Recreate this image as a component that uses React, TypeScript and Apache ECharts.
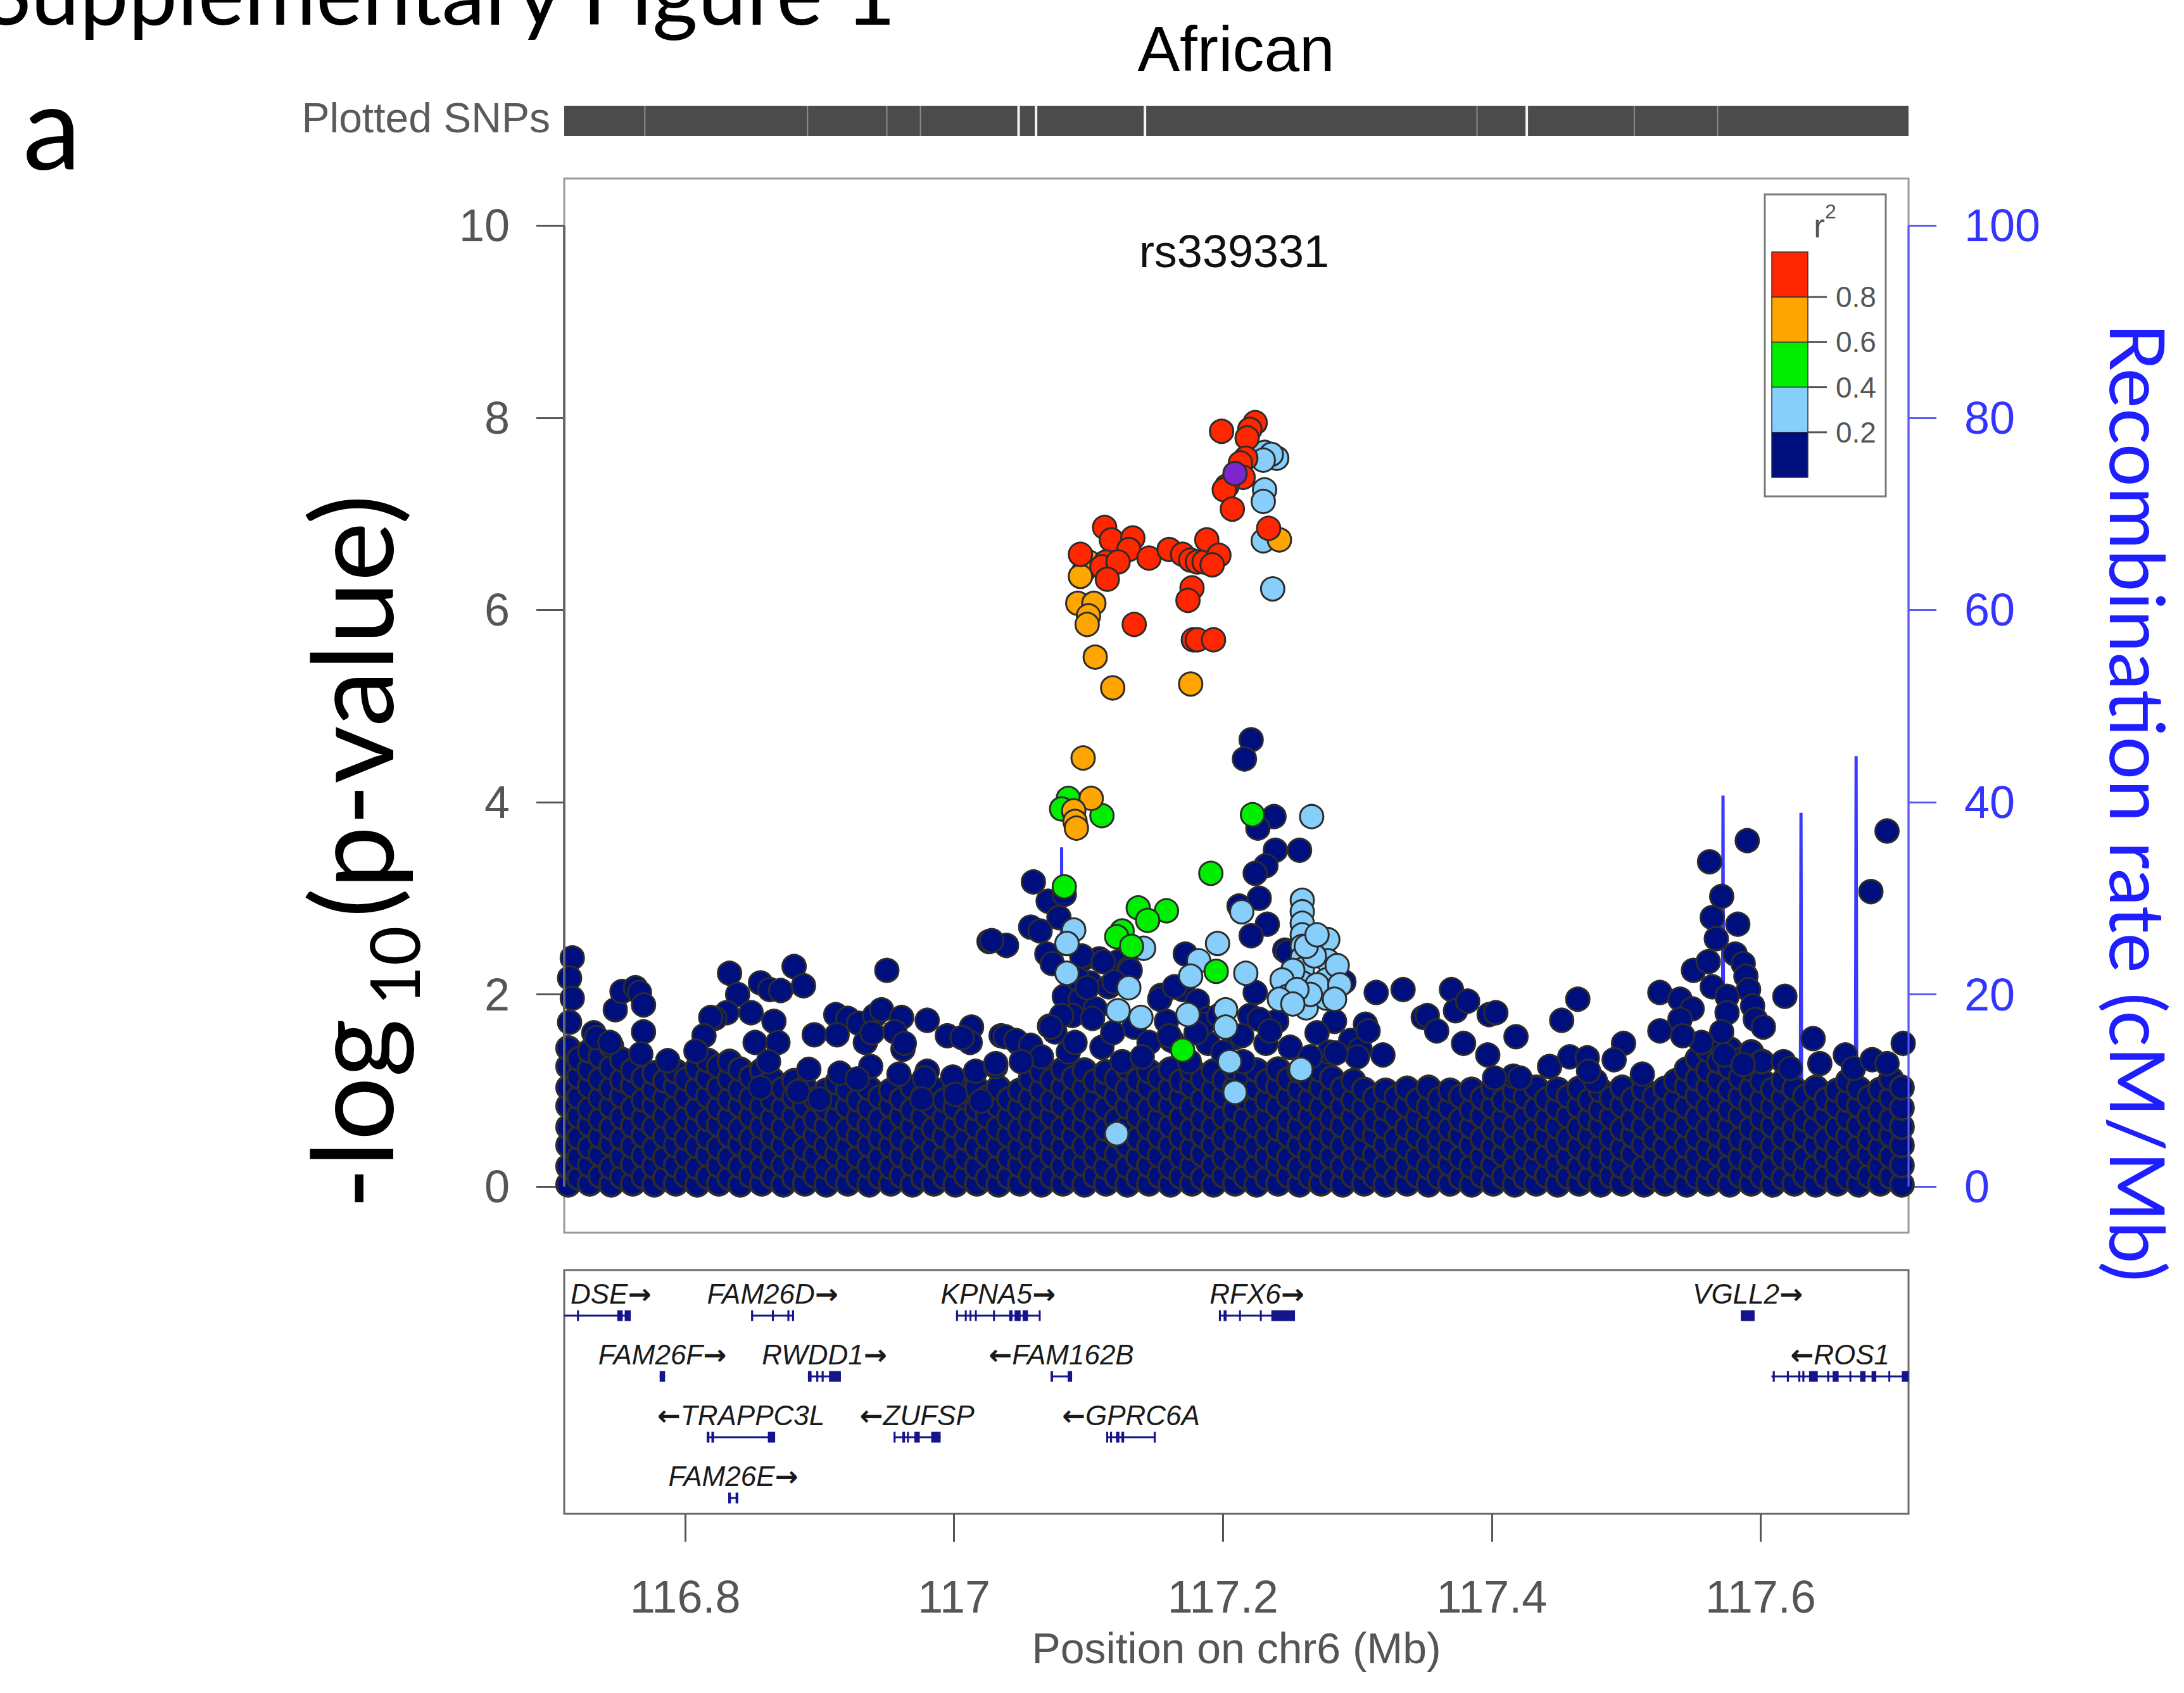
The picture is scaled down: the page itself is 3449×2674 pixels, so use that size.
import React, { useEffect, useRef } from 'react';
import * as echarts from 'echarts';

// ---------- axis ranges / ticks ----------
const X_MIN = 116.71;
const X_MAX = 117.71;
const Y_MIN = -0.48;
const Y_MAX = 10.49;
const xTicks = [116.8, 117, 117.2, 117.4, 117.6];
const yTicks = [0, 2, 4, 6, 8, 10];
const recTicks = [0, 20, 40, 60, 80, 100];
const r2Breaks = ['0.8', '0.6', '0.4', '0.2'];

// ---------- SNPs coloured by r2 ----------
const leadSnp: [number, number][] = [[117.209, 7.42]];

const redSnps: [number, number][] = [
  [117.199, 7.86], [117.224, 7.95], [117.22, 7.88], [117.218, 7.79], [117.217, 7.58], [117.213, 7.53],
  [117.215, 7.38], [117.203, 7.29], [117.201, 7.25], [117.207, 7.05], [117.234, 6.85],
  [117.112, 6.86], [117.094, 6.58], [117.117, 6.73], [117.133, 6.75], [117.13, 6.63], [117.113, 6.5],
  [117.11, 6.45], [117.122, 6.5], [117.114, 6.32], [117.145, 6.54], [117.16, 6.63], [117.17, 6.58],
  [117.176, 6.52], [117.181, 6.5], [117.186, 6.5], [117.188, 6.73], [117.197, 6.57], [117.192, 6.47],
  [117.177, 6.23], [117.174, 6.1], [117.134, 5.85], [117.178, 5.69], [117.181, 5.69], [117.193, 5.69],
];

const orangeSnps: [number, number][] = [
  [117.1, 6.5], [117.097, 6.42], [117.094, 6.35], [117.092, 6.07], [117.104, 6.07], [117.1, 5.94],
  [117.099, 5.85], [117.105, 5.51], [117.118, 5.19], [117.176, 5.23], [117.096, 4.46], [117.102, 4.04],
  [117.089, 3.91], [117.09, 3.8], [117.091, 3.73], [117.242, 6.73],
];

const greenSnps: [number, number][] = [
  [117.085, 4.04], [117.08, 3.93], [117.11, 3.86], [117.082, 3.12], [117.222, 3.87], [117.191, 3.26],
  [117.137, 2.9], [117.158, 2.87], [117.144, 2.77], [117.125, 2.66], [117.121, 2.6], [117.132, 2.5],
  [117.195, 2.24], [117.17, 1.42],
];

const lightBlueSnps: [number, number][] = [
  [117.24, 7.58], [117.231, 7.64], [117.236, 7.62], [117.23, 7.56], [117.231, 7.25], [117.23, 7.13],
  [117.23, 6.72], [117.237, 6.22], [117.266, 3.85], [117.089, 2.67], [117.084, 2.53], [117.214, 2.86],
  [117.196, 2.53], [117.141, 2.48], [117.182, 2.35], [117.084, 2.22], [117.217, 2.22],
  [117.259, 2.98], [117.259, 2.86], [117.259, 2.74], [117.259, 2.62], [117.259, 2.5], [117.259, 2.38],
  [117.259, 2.26], [117.259, 2.12], [117.259, 1.98], [117.262, 1.86],
  [117.278, 2.57], [117.278, 2.35], [117.277, 2.15], [117.277, 1.96], [117.252, 2.25], [117.244, 2.15],
  [117.248, 1.98], [117.176, 2.19], [117.13, 2.07], [117.122, 1.83], [117.139, 1.76], [117.121, 0.55],
  [117.174, 1.79], [117.202, 1.84], [117.202, 1.66], [117.205, 1.3], [117.209, 0.98], [117.258, 1.22],
  [117.268, 2.4], [117.27, 2.1], [117.265, 2.0], [117.285, 2.3], [117.287, 2.1], [117.283, 1.95],
  [117.255, 2.05], [117.262, 2.5], [117.27, 2.62], [117.242, 1.95], [117.252, 1.9],
];

// navy (r2 < 0.2): scattered upper points
const navyUpper: [number, number][] = [
  [116.716, 2.38], [116.714, 2.17], [116.716, 1.96], [116.714, 1.71], [116.732, 1.6], [116.748, 1.84],
  [116.753, 2.03], [116.763, 2.07], [116.766, 2.02], [116.769, 1.89], [116.769, 1.61], [116.734, 1.55],
  [116.787, 1.31], [116.767, 1.38], [116.744, 1.5],
  [116.833, 2.22], [116.839, 2.0], [116.831, 1.81], [116.849, 1.81], [116.822, 1.75], [116.856, 2.12],
  [116.863, 2.05], [116.871, 2.04], [116.881, 2.29], [116.888, 2.09], [116.866, 1.72], [116.819, 1.76],
  [116.814, 1.57], [116.808, 1.41], [116.852, 1.5], [116.869, 1.5], [116.862, 1.3],
  [116.95, 2.25], [117.026, 2.55], [117.039, 2.51],
  [116.912, 1.79], [116.921, 1.75], [116.929, 1.7], [116.941, 1.78], [116.946, 1.84], [116.961, 1.76],
  [116.98, 1.73], [116.995, 1.57], [117.013, 1.66], [117.012, 1.5],
  [116.896, 1.58], [116.913, 1.58], [116.934, 1.5], [116.956, 1.61], [116.962, 1.43], [116.939, 1.6],
  [116.963, 1.49], [117.006, 1.55], [117.035, 1.57], [117.048, 1.49],
  [116.915, 1.18], [116.938, 1.25], [116.928, 1.12], [116.959, 1.17], [116.98, 1.2], [116.999, 1.14],
  [117.016, 1.2], [117.031, 1.25], [116.892, 1.22], [116.978, 1.13],
  [116.856, 1.03], [116.884, 0.99], [116.9, 0.91], [117.001, 0.96], [116.976, 0.91], [117.02, 0.89],
  [117.059, 3.17], [117.07, 2.97], [117.082, 3.04], [117.078, 2.8], [117.057, 2.7], [117.064, 2.66],
  [117.028, 2.56], [117.069, 2.42], [117.073, 2.32], [117.096, 2.37], [117.108, 2.37], [117.122, 2.34],
  [117.13, 2.27], [117.101, 2.12], [117.082, 1.98], [117.094, 1.95], [117.115, 2.08], [117.105, 1.85],
  [117.088, 1.78], [117.071, 1.67], [117.075, 1.61], [117.038, 1.56], [117.046, 1.52], [117.057, 1.47],
  [117.031, 1.28],
  [117.095, 2.4], [117.111, 2.34], [117.131, 2.25], [117.092, 2.16], [117.099, 2.07], [117.119, 2.13],
  [117.154, 1.99], [117.17, 2.05], [117.181, 1.93], [117.189, 1.75], [117.158, 1.72], [117.134, 1.66],
  [117.103, 1.75], [117.08, 1.78], [117.072, 1.66],
  [117.172, 2.42], [117.212, 2.92], [117.227, 3.0], [117.233, 2.73], [117.221, 2.61], [117.238, 3.85],
  [117.226, 3.73], [117.239, 3.5], [117.257, 3.5], [117.232, 3.34], [117.224, 3.26], [117.221, 4.65],
  [117.216, 4.45], [117.246, 2.46], [117.29, 2.13], [117.248, 2.44],
  [117.224, 2.02], [117.22, 1.78], [117.24, 1.72], [117.232, 1.49], [117.209, 1.55], [117.189, 1.49],
  [117.162, 1.52], [117.283, 1.72], [117.295, 1.52], [117.279, 1.4], [117.302, 1.43],
  [117.227, 1.74], [117.214, 1.57], [117.153, 1.95], [117.164, 2.08], [117.145, 1.5], [117.16, 1.57],
  [117.185, 1.69], [117.197, 1.78],
  [117.306, 1.69], [117.314, 2.02], [117.334, 2.05], [117.308, 1.62], [117.349, 1.76], [117.3, 1.35],
  [117.319, 1.37], [117.284, 1.39],
  [117.065, 1.35], [117.085, 1.4], [117.11, 1.45], [117.125, 1.3], [117.14, 1.35], [117.175, 1.3],
  [117.2, 1.4], [117.215, 1.3], [117.25, 1.45], [117.265, 1.35], [117.27, 1.6], [117.05, 1.3],
  [117.09, 1.5], [117.118, 1.6], [117.18, 1.6], [117.235, 1.62],
  [117.37, 2.05], [117.373, 1.83], [117.382, 1.93], [117.352, 1.78], [117.359, 1.62], [117.398, 1.79],
  [117.403, 1.81], [117.418, 1.56], [117.379, 1.49], [117.397, 1.37], [117.452, 1.73], [117.464, 1.95],
  [117.443, 1.25], [117.458, 1.35], [117.471, 1.34], [117.416, 1.15], [117.421, 1.13], [117.402, 1.13],
  [117.498, 1.49], [117.491, 1.32], [117.512, 1.17], [117.477, 1.1], [117.472, 1.2],
  [117.525, 2.02], [117.525, 1.62], [117.54, 1.95], [117.549, 1.85], [117.54, 1.74], [117.55, 2.25],
  [117.561, 2.34], [117.562, 3.38], [117.571, 3.02], [117.564, 2.8], [117.567, 2.58], [117.564, 2.08],
  [117.583, 2.73], [117.59, 3.6], [117.581, 2.42], [117.587, 2.32], [117.589, 2.19], [117.591, 2.05],
  [117.594, 1.88], [117.596, 1.74], [117.602, 1.66], [117.575, 1.98], [117.575, 1.81], [117.571, 1.61],
  [117.618, 1.98], [117.639, 1.54], [117.644, 1.28], [117.617, 1.3], [117.622, 1.23], [117.663, 1.37],
  [117.669, 1.23], [117.682, 3.07], [117.694, 3.7], [117.683, 1.32], [117.694, 1.28], [117.706, 1.49],
  [117.573, 1.37], [117.587, 1.27], [117.556, 1.5], [117.542, 1.57],
];

// navy (r2 < 0.2): dense low band, one entry per position with its -log10 p values
const navyBand: [number, number[]][] = [
  [116.713, [0.02, 0.21, 0.43, 0.62, 0.84, 1.03, 1.25, 1.44]],
  [116.721, [0.09, 0.3, 0.51, 0.73, 0.93, 1.14, 1.33]],
  [116.729, [0.03, 0.22, 0.41, 0.64, 0.81, 1.04, 1.22, 1.41]],
  [116.737, [0.11, 0.33, 0.52, 0.7, 0.92, 1.12, 1.35]],
  [116.745, [0.02, 0.2, 0.44, 0.61, 0.83, 1.02, 1.24, 1.46]],
  [116.753, [0.1, 0.31, 0.5, 0.72, 0.94, 1.11, 1.32]],
  [116.761, [0.03, 0.23, 0.42, 0.63, 0.82, 1.05, 1.21]],
  [116.769, [0.1, 0.32, 0.53, 0.71, 0.9, 1.13]],
  [116.777, [0.02, 0.21, 0.4, 0.62, 0.84, 1.01, 1.18]],
  [116.785, [0.09, 0.3, 0.52, 0.73, 0.92, 1.1]],
  [116.793, [0.03, 0.22, 0.43, 0.61, 0.83, 1.04, 1.2]],
  [116.801, [0.11, 0.31, 0.5, 0.72, 0.93, 1.12]],
  [116.809, [0.02, 0.2, 0.42, 0.63, 0.81, 1.02, 1.23]],
  [116.817, [0.1, 0.33, 0.51, 0.7, 0.94, 1.13, 1.31]],
  [116.825, [0.03, 0.22, 0.41, 0.64, 0.82, 1.03, 1.25]],
  [116.833, [0.09, 0.3, 0.53, 0.72, 0.91, 1.12, 1.3]],
  [116.841, [0.02, 0.21, 0.44, 0.6, 0.84, 1.01, 1.22]],
  [116.849, [0.11, 0.32, 0.5, 0.73, 0.92, 1.14]],
  [116.857, [0.03, 0.2, 0.42, 0.62, 0.83, 1.04, 1.21]],
  [116.865, [0.1, 0.31, 0.52, 0.71, 0.9, 1.11]],
  [116.873, [0.02, 0.22, 0.43, 0.61, 0.82, 1.02]],
  [116.881, [0.09, 0.3, 0.51, 0.73, 0.93, 1.1]],
  [116.889, [0.03, 0.21, 0.4, 0.63, 0.84, 1.03]],
  [116.897, [0.11, 0.32, 0.53, 0.7, 0.91]],
  [116.905, [0.02, 0.2, 0.42, 0.62, 0.81, 1.0]],
  [116.913, [0.1, 0.33, 0.5, 0.72, 0.92, 1.08]],
  [116.921, [0.03, 0.22, 0.41, 0.6, 0.83, 1.01]],
  [116.929, [0.09, 0.31, 0.52, 0.71, 0.9]],
  [116.937, [0.02, 0.21, 0.43, 0.63, 0.82, 1.02]],
  [116.945, [0.1, 0.3, 0.51, 0.7, 0.93]],
  [116.953, [0.03, 0.2, 0.42, 0.61, 0.84, 1.0]],
  [116.961, [0.11, 0.32, 0.5, 0.73, 0.91]],
  [116.969, [0.02, 0.23, 0.41, 0.62, 0.8, 1.03]],
  [116.977, [0.09, 0.3, 0.53, 0.72, 0.94]],
  [116.985, [0.03, 0.21, 0.4, 0.6, 0.83, 1.01]],
  [116.993, [0.1, 0.31, 0.52, 0.71, 0.9]],
  [117.001, [0.02, 0.22, 0.43, 0.63, 0.82, 1.04]],
  [117.009, [0.11, 0.3, 0.5, 0.7, 0.92]],
  [117.017, [0.03, 0.2, 0.41, 0.62, 0.81, 1.02]],
  [117.025, [0.09, 0.33, 0.51, 0.73, 0.93]],
  [117.033, [0.02, 0.21, 0.42, 0.61, 0.84, 1.03]],
  [117.041, [0.1, 0.3, 0.53, 0.72, 0.91]],
  [117.049, [0.03, 0.22, 0.4, 0.6, 0.82, 1.0]],
  [117.057, [0.11, 0.31, 0.52, 0.7, 0.92, 1.12]],
  [117.065, [0.02, 0.2, 0.43, 0.62, 0.83, 1.01, 1.2]],
  [117.073, [0.1, 0.32, 0.5, 0.73, 0.9, 1.11]],
  [117.081, [0.03, 0.21, 0.41, 0.61, 0.84, 1.03, 1.22]],
  [117.089, [0.09, 0.3, 0.52, 0.71, 0.93, 1.13]],
  [117.097, [0.02, 0.23, 0.42, 0.63, 0.8, 1.02, 1.21]],
  [117.105, [0.11, 0.31, 0.51, 0.72, 0.91, 1.1]],
  [117.113, [0.03, 0.2, 0.4, 0.6, 0.82, 1.04, 1.19]],
  [117.121, [0.1, 0.33, 0.53, 0.7, 0.94, 1.12]],
  [117.129, [0.02, 0.21, 0.43, 0.62, 0.83, 1.01, 1.23]],
  [117.137, [0.09, 0.3, 0.5, 0.73, 0.92, 1.11]],
  [117.145, [0.03, 0.22, 0.41, 0.61, 0.81, 1.03, 1.2]],
  [117.153, [0.11, 0.32, 0.52, 0.71, 0.9, 1.13]],
  [117.161, [0.02, 0.2, 0.42, 0.63, 0.84, 1.02, 1.22]],
  [117.169, [0.1, 0.31, 0.51, 0.72, 0.93, 1.1]],
  [117.177, [0.03, 0.21, 0.4, 0.6, 0.82, 1.04, 1.21]],
  [117.185, [0.09, 0.33, 0.53, 0.7, 0.91, 1.12]],
  [117.193, [0.02, 0.22, 0.43, 0.62, 0.83, 1.01, 1.2]],
  [117.201, [0.11, 0.3, 0.5, 0.73, 0.94, 1.11]],
  [117.209, [0.03, 0.2, 0.41, 0.61, 0.8, 1.03, 1.23]],
  [117.217, [0.1, 0.32, 0.52, 0.71, 0.92, 1.13]],
  [117.225, [0.02, 0.21, 0.42, 0.63, 0.84, 1.02, 1.21]],
  [117.233, [0.09, 0.31, 0.51, 0.72, 0.9, 1.1]],
  [117.241, [0.03, 0.23, 0.4, 0.6, 0.83, 1.04, 1.22]],
  [117.249, [0.11, 0.3, 0.53, 0.7, 0.93, 1.12]],
  [117.257, [0.02, 0.2, 0.43, 0.62, 0.81, 1.01, 1.2]],
  [117.265, [0.1, 0.32, 0.5, 0.73, 0.91, 1.11]],
  [117.273, [0.03, 0.22, 0.41, 0.61, 0.82, 1.03, 1.21]],
  [117.281, [0.09, 0.31, 0.52, 0.71, 0.94, 1.13]],
  [117.289, [0.02, 0.21, 0.42, 0.63, 0.83, 1.02]],
  [117.297, [0.11, 0.3, 0.51, 0.72, 0.9, 1.1]],
  [117.305, [0.03, 0.2, 0.4, 0.6, 0.82, 1.01]],
  [117.313, [0.1, 0.33, 0.53, 0.7, 0.92]],
  [117.321, [0.02, 0.22, 0.43, 0.62, 0.81, 1.0]],
  [117.329, [0.09, 0.31, 0.5, 0.73, 0.93]],
  [117.337, [0.03, 0.21, 0.41, 0.61, 0.84, 1.02]],
  [117.345, [0.11, 0.3, 0.52, 0.71, 0.9]],
  [117.353, [0.02, 0.2, 0.42, 0.63, 0.83, 1.03]],
  [117.361, [0.1, 0.32, 0.51, 0.72, 0.91]],
  [117.369, [0.03, 0.23, 0.4, 0.6, 0.82, 1.0]],
  [117.377, [0.09, 0.3, 0.53, 0.7, 0.94]],
  [117.385, [0.02, 0.21, 0.43, 0.62, 0.8, 1.01]],
  [117.393, [0.11, 0.31, 0.5, 0.73, 0.92]],
  [117.401, [0.03, 0.22, 0.41, 0.61, 0.83, 1.02]],
  [117.409, [0.1, 0.33, 0.52, 0.71, 0.9]],
  [117.417, [0.02, 0.2, 0.42, 0.63, 0.84, 1.0]],
  [117.425, [0.09, 0.3, 0.51, 0.72, 0.93]],
  [117.433, [0.03, 0.21, 0.4, 0.6, 0.81, 1.03]],
  [117.441, [0.11, 0.32, 0.53, 0.7, 0.91]],
  [117.449, [0.02, 0.22, 0.43, 0.62, 0.82, 1.01]],
  [117.457, [0.1, 0.31, 0.5, 0.73, 0.94]],
  [117.465, [0.03, 0.2, 0.41, 0.61, 0.83, 1.02]],
  [117.473, [0.09, 0.3, 0.52, 0.71, 0.9]],
  [117.481, [0.02, 0.23, 0.42, 0.63, 0.8, 1.0]],
  [117.489, [0.11, 0.31, 0.51, 0.72, 0.92]],
  [117.497, [0.03, 0.21, 0.4, 0.6, 0.84, 1.03]],
  [117.505, [0.1, 0.33, 0.53, 0.7, 0.91]],
  [117.513, [0.02, 0.2, 0.43, 0.62, 0.82, 1.01]],
  [117.521, [0.09, 0.32, 0.5, 0.73, 0.93]],
  [117.529, [0.03, 0.22, 0.41, 0.61, 0.81, 1.02]],
  [117.537, [0.11, 0.3, 0.52, 0.71, 0.9, 1.1]],
  [117.545, [0.02, 0.21, 0.42, 0.63, 0.83, 1.04, 1.22]],
  [117.553, [0.1, 0.31, 0.51, 0.72, 0.94, 1.12, 1.33]],
  [117.561, [0.03, 0.2, 0.4, 0.6, 0.82, 1.03, 1.21, 1.42]],
  [117.569, [0.09, 0.33, 0.53, 0.7, 0.91, 1.11, 1.3, 1.5]],
  [117.577, [0.02, 0.22, 0.43, 0.62, 0.8, 1.01, 1.24, 1.43]],
  [117.585, [0.11, 0.3, 0.5, 0.73, 0.93, 1.13, 1.32]],
  [117.593, [0.03, 0.21, 0.41, 0.61, 0.84, 1.02, 1.22, 1.4]],
  [117.601, [0.1, 0.32, 0.52, 0.71, 0.9, 1.1, 1.3]],
  [117.609, [0.02, 0.2, 0.42, 0.63, 0.83, 1.01]],
  [117.617, [0.09, 0.31, 0.51, 0.72, 0.92, 1.1]],
  [117.625, [0.03, 0.23, 0.4, 0.6, 0.81, 1.02]],
  [117.633, [0.11, 0.3, 0.53, 0.7, 0.94]],
  [117.641, [0.02, 0.21, 0.43, 0.62, 0.82, 1.03]],
  [117.649, [0.1, 0.32, 0.5, 0.73, 0.91]],
  [117.657, [0.03, 0.22, 0.41, 0.61, 0.83, 1.0]],
  [117.665, [0.09, 0.3, 0.52, 0.71, 0.9, 1.1]],
  [117.673, [0.02, 0.2, 0.42, 0.63, 0.84, 1.02]],
  [117.681, [0.11, 0.33, 0.51, 0.72, 0.93]],
  [117.689, [0.03, 0.21, 0.4, 0.6, 0.8, 1.01]],
  [117.697, [0.1, 0.31, 0.53, 0.7, 0.92, 1.12]],
  [117.705, [0.02, 0.22, 0.43, 0.62, 0.82, 1.03]],
];

// recombination rate (cM/Mb)
const recombRate: [number, number][] = [
  [116.71, 0.6], [116.76, 1.2], [116.8, 0.5], [116.85, 0.9], [116.9, 0.4], [116.95, 1.1], [117.0, 0.7],
  [117.05, 0.9], [117.0795, 1.2], [117.08, 35.3], [117.0806, 1.0], [117.12, 0.5], [117.18, 0.8],
  [117.2404, 0.9], [117.241, 8.4], [117.2416, 0.8], [117.3, 0.6], [117.36, 1.0], [117.42, 0.7],
  [117.48, 1.1], [117.54, 0.9], [117.5714, 1.3], [117.572, 40.7], [117.5726, 1.2], [117.6294, 1.1],
  [117.63, 38.9], [117.6306, 1.0], [117.6704, 1.4], [117.671, 44.8], [117.6716, 1.2], [117.71, 0.8],
];

// plotted-SNP track: positions without SNPs (white) and sparse (light)
const snpGaps = [117.048, 117.061, 117.142, 117.426];
const snpSparse = [116.77, 116.891, 116.95, 116.975, 117.389, 117.506, 117.568];

// genes
type Gene = { name: string; start: number; end: number; strand: number; row: number; exons: [number, number][] };
const genes: Gene[] = [
  { name: 'DSE', start: 116.71, end: 116.7595, strand: 1, row: 0, exons: [[116.7195, 116.721], [116.7495, 116.7535], [116.755, 116.7595]] },
  { name: 'FAM26D', start: 116.849, end: 116.881, strand: 1, row: 0, exons: [[116.849, 116.8505], [116.8645, 116.8658], [116.876, 116.8775], [116.8795, 116.881]] },
  { name: 'KPNA5', start: 117.0015, end: 117.064, strand: 1, row: 0, exons: [[117.0015, 117.0028], [117.008, 117.0092], [117.0115, 117.0125], [117.0155, 117.0168], [117.029, 117.03], [117.041, 117.0435], [117.045, 117.0495], [117.051, 117.055], [117.063, 117.064]] },
  { name: 'RFX6', start: 117.197, end: 117.2536, strand: 1, row: 0, exons: [[117.197, 117.1985], [117.2005, 117.2027], [117.212, 117.2132], [117.2275, 117.2288], [117.236, 117.2536]] },
  { name: 'VGLL2', start: 117.5852, end: 117.5955, strand: 1, row: 0, exons: [[117.5852, 117.5955]] },
  { name: 'FAM26F', start: 116.781, end: 116.785, strand: 1, row: 1, exons: [[116.781, 116.785]] },
  { name: 'RWDD1', start: 116.8913, end: 116.9158, strand: 1, row: 1, exons: [[116.8913, 116.894], [116.8975, 116.899], [116.9015, 116.903], [116.907, 116.9158]] },
  { name: 'FAM162B', start: 117.0718, end: 117.0878, strand: -1, row: 1, exons: [[117.0718, 117.0736], [117.0845, 117.0878]] },
  { name: 'ROS1', start: 117.608, end: 117.71, strand: -1, row: 1, exons: [[117.609, 117.6105], [117.6195, 117.621], [117.628, 117.6295], [117.631, 117.6325], [117.636, 117.6425], [117.6495, 117.651], [117.6535, 117.658], [117.666, 117.667], [117.674, 117.678], [117.6825, 117.686], [117.695, 117.696], [117.705, 117.71]] },
  { name: 'TRAPPC3L', start: 116.816, end: 116.8669, strand: -1, row: 2, exons: [[116.816, 116.818], [116.8195, 116.8215], [116.8615, 116.8669]] },
  { name: 'ZUFSP', start: 116.955, end: 116.99, strand: -1, row: 2, exons: [[116.955, 116.9565], [116.9615, 116.9635], [116.965, 116.966], [116.9705, 116.9745], [116.983, 116.99]] },
  { name: 'GPRC6A', start: 117.1132, end: 117.15, strand: -1, row: 2, exons: [[117.1132, 117.1145], [117.116, 117.1175], [117.1205, 117.123], [117.1245, 117.1265], [117.1485, 117.15]] },
  { name: 'FAM26E', start: 116.832, end: 116.8395, strand: 1, row: 3, exons: [[116.832, 116.834], [116.8375, 116.8395]] },
];

// ---------- styles ----------
const C = {
  lead: '#7D26CD', red: '#FF2600', orange: '#FFA500', green: '#00EE00', lightblue: '#87CEFA', navy: '#000F7E',
};
const legendColors = [C.red, C.orange, C.green, C.lightblue, C.navy];
const GENE_COLOR = '#14148C';
const SANS = '"Liberation Sans", Arial, sans-serif';
const HUMAN = 'Lato, "Open Sans", sans-serif';
const GREY = '#555555';
const BLUE_TXT = '#3434FF';
const BLUE_LINE = '#5a5af0';

const scatter = (name: string, data: [number, number][], color: string, border = 3) => ({
  name,
  type: 'scatter',
  xAxisIndex: 0,
  yAxisIndex: 0,
  data,
  symbol: 'circle',
  symbolSize: 37,
  silent: true,
  progressive: 0,
  large: false,
  itemStyle: { color, borderColor: '#2c2c2c', borderWidth: border, opacity: 1 },
  emphasis: { disabled: true },
});

function buildOption() {
  const bandPts: [number, number][] = [];
  navyBand.forEach(([x, ys]) => ys.forEach((y) => bandPts.push([x, y])));

  const legendX = 2798, legendTop = 398, blockH = 71.2, blockW = 57;
  const legendGraphics: any[] = [
    { type: 'rect', shape: { x: 2787, y: 307, width: 191, height: 477 }, style: { fill: '#fff', stroke: '#7a7a7a', lineWidth: 3 }, z: 100 },
    { type: 'text', style: { text: 'r', x: 2864, y: 356, font: `54px ${SANS}`, fill: GREY, verticalAlign: 'middle' }, z: 101 },
    { type: 'text', style: { text: '2', x: 2882, y: 334, font: `32px ${SANS}`, fill: GREY, verticalAlign: 'middle' }, z: 101 },
  ];
  legendColors.forEach((c, i) => {
    legendGraphics.push({ type: 'rect', shape: { x: legendX, y: legendTop + i * blockH, width: blockW, height: blockH }, style: { fill: c, stroke: '#333', lineWidth: 1.5 }, z: 101 });
  });
  r2Breaks.forEach((t, i) => {
    const y = legendTop + (i + 1) * blockH;
    legendGraphics.push({ type: 'line', shape: { x1: legendX + blockW, y1: y, x2: 2885, y2: y }, style: { stroke: GREY, lineWidth: 3 }, z: 102 });
    legendGraphics.push({ type: 'text', style: { text: t, x: 2899, y, font: `46px ${SANS}`, fill: GREY, verticalAlign: 'middle' }, z: 102 });
  });

  const textGraphics: any[] = [
    { type: 'text', style: { text: 'Supplementary Figure 1', x: -25, y: -15, font: `138px ${HUMAN}`, fill: '#000', verticalAlign: 'middle' } },
    { type: 'text', style: { text: 'a', x: 36, y: 196, font: `185px ${HUMAN}`, fill: '#000', verticalAlign: 'middle' } },
    { type: 'text', style: { text: 'African', x: 1952, y: 77, font: `100px ${SANS}`, fill: '#000', align: 'center', verticalAlign: 'middle' } },
    { type: 'text', style: { text: 'Plotted SNPs', x: 869, y: 186, font: `66px ${SANS}`, fill: '#5a5a5a', align: 'right', verticalAlign: 'middle' } },
    { type: 'text', style: { text: 'rs339331', x: 1949, y: 397, font: `72px ${SANS}`, fill: '#111', align: 'center', verticalAlign: 'middle' }, z: 50 },
    { type: 'text', x: 552, y: 1910, rotation: Math.PI / 2, style: { text: '-log', x: 0, y: 0, font: `178px ${HUMAN}`, fill: '#000', align: 'left', verticalAlign: 'middle' } },
    { type: 'text', x: 621, y: 1588, rotation: Math.PI / 2, style: { text: '10', x: 0, y: 0, font: `108px ${HUMAN}`, fill: '#000', align: 'left', verticalAlign: 'middle' } },
    { type: 'text', x: 552, y: 1450, rotation: Math.PI / 2, style: { text: '(p-value)', x: 0, y: 0, font: `178px ${HUMAN}`, fill: '#000', align: 'left', verticalAlign: 'middle' } },
    { type: 'text', x: 3378, y: 510, rotation: -Math.PI / 2, style: { text: 'Recombination rate (cM/Mb)', x: 0, y: 0, font: `120px ${HUMAN}`, fill: '#1E1EFF', align: 'left', verticalAlign: 'middle' } },
  ];

  return {
    animation: false,
    backgroundColor: '#ffffff',
    grid: [
      { left: 891, top: 282, width: 2123, height: 1665, show: true, borderColor: '#9a9a9a', borderWidth: 3, backgroundColor: 'transparent' },
      { left: 891, top: 2006, width: 2123, height: 385, show: true, borderColor: '#6a6a6a', borderWidth: 3, backgroundColor: 'transparent' },
      { left: 891, top: 167, width: 2123, height: 48, show: false },
    ],
    xAxis: [
      { type: 'value', gridIndex: 0, min: X_MIN, max: X_MAX, show: false },
      {
        type: 'value', gridIndex: 1, min: X_MIN, max: X_MAX, position: 'bottom',
        axisLine: { show: false, onZero: false },
        splitLine: { show: false },
        axisTick: { show: true, inside: false, customValues: xTicks, length: 44, lineStyle: { color: GREY, width: 3 } },
        axisLabel: { show: true, customValues: xTicks, fontSize: 72, color: GREY, fontFamily: SANS, margin: 95 },
        name: 'Position on chr6 (Mb)', nameLocation: 'middle', nameGap: 178,
        nameTextStyle: { fontSize: 68, color: GREY, fontFamily: SANS },
      },
      { type: 'value', gridIndex: 2, min: X_MIN, max: X_MAX, show: false },
    ],
    yAxis: [
      {
        type: 'value', gridIndex: 0, min: Y_MIN, max: Y_MAX, position: 'left',
        axisLine: { show: false, onZero: false }, splitLine: { show: false },
        axisTick: { show: true, customValues: yTicks, length: 44, lineStyle: { color: GREY, width: 3 } },
        axisLabel: { show: true, customValues: yTicks, fontSize: 72, color: GREY, fontFamily: SANS, margin: 86 },
      },
      {
        type: 'value', gridIndex: 0, min: Y_MIN * 10, max: Y_MAX * 10, position: 'right',
        axisLine: { show: false, onZero: false }, splitLine: { show: false },
        axisTick: { show: true, customValues: recTicks, length: 44, lineStyle: { color: BLUE_LINE, width: 3 } },
        axisLabel: { show: true, customValues: recTicks, fontSize: 72, color: BLUE_TXT, fontFamily: SANS, margin: 88 },
      },
      { type: 'value', gridIndex: 1, min: 0, max: 385, inverse: true, show: false },
      { type: 'value', gridIndex: 2, min: 0, max: 1, show: false },
    ],
    series: [
      {
        name: 'recomb', type: 'line', xAxisIndex: 0, yAxisIndex: 1, data: recombRate,
        showSymbol: false, symbol: 'none', silent: true,
        lineStyle: { color: '#3a3aff', width: 5 }, z: 1,
      },
      scatter('navyBand', bandPts, C.navy, 4),
      scatter('navy', navyUpper, C.navy),
      scatter('lightblue', lightBlueSnps, C.lightblue),
      scatter('green', greenSnps, C.green),
      scatter('orange', orangeSnps, C.orange),
      scatter('red', redSnps, C.red),
      scatter('lead', leadSnp, C.lead),
      {
        name: 'axes', type: 'custom', xAxisIndex: 0, yAxisIndex: 0, data: [[X_MIN, 0]], silent: true, z: 10,
        renderItem: (_p: any, api: any) => {
          const a0 = api.coord([X_MIN, 0]), a1 = api.coord([X_MIN, 10]);
          const b0 = api.coord([X_MAX, 0]), b1 = api.coord([X_MAX, 10]);
          return {
            type: 'group', children: [
              { type: 'line', shape: { x1: a0[0], y1: a0[1], x2: a1[0], y2: a1[1] }, style: { stroke: '#666', lineWidth: 4 } },
              { type: 'line', shape: { x1: b0[0], y1: b0[1], x2: b1[0], y2: b1[1] }, style: { stroke: BLUE_LINE, lineWidth: 3 } },
            ],
          };
        },
      },
      {
        name: 'snps', type: 'custom', xAxisIndex: 2, yAxisIndex: 3, data: [[X_MIN, 0.5]], silent: true,
        renderItem: (_p: any, api: any) => {
          const p0 = api.coord([X_MIN, 1]), p1 = api.coord([X_MAX, 0]);
          const children: any[] = [
            { type: 'rect', shape: { x: p0[0], y: p0[1], width: p1[0] - p0[0], height: p1[1] - p0[1] }, style: { fill: '#4b4b4b' } },
          ];
          snpSparse.forEach((x) => {
            const q = api.coord([x, 0]);
            children.push({ type: 'line', shape: { x1: q[0], y1: p0[1], x2: q[0], y2: p1[1] }, style: { stroke: '#8c8c8c', lineWidth: 2 } });
          });
          snpGaps.forEach((x) => {
            const q = api.coord([x, 0]);
            children.push({ type: 'line', shape: { x1: q[0], y1: p0[1], x2: q[0], y2: p1[1] }, style: { stroke: '#f4f4f4', lineWidth: 4 } });
          });
          return { type: 'group', children };
        },
      },
      {
        name: 'genes', type: 'custom', xAxisIndex: 1, yAxisIndex: 2, silent: true,
        data: genes.map((g, i) => [g.start, 72 + 96 * g.row, i]),
        renderItem: (params: any, api: any) => {
          const g = genes[api.value(2)];
          const rowY = 72 + 96 * g.row;
          const p0 = api.coord([g.start, rowY]);
          const p1 = api.coord([g.end, rowY]);
          const children: any[] = [
            { type: 'line', shape: { x1: p0[0], y1: p0[1], x2: p1[0], y2: p1[1] }, style: { stroke: GENE_COLOR, lineWidth: 3 } },
          ];
          g.exons.forEach(([s, e]) => {
            const a = api.coord([s, rowY]);
            const b = api.coord([e, rowY]);
            children.push({ type: 'rect', shape: { x: a[0], y: a[1] - 8.5, width: Math.max(b[0] - a[0], 3), height: 17 }, style: { fill: GENE_COLOR } });
          });
          const text = g.strand > 0 ? `{n|${g.name}}{a|\u2192}` : `{a|\u2190}{n|${g.name}}`;
          const halfW = ((g.name.length + 1.2) * 0.66 * 43) / 2;
          const cs = params.coordSys;
          let cx = (p0[0] + p1[0]) / 2;
          cx = Math.max(cs.x + 14 + halfW, Math.min(cs.x + cs.width - 14 - halfW, cx));
          children.push({
            type: 'text',
            style: {
              text, x: cx, y: p0[1] - 35, align: 'center', verticalAlign: 'middle',
              rich: {
                n: { fontStyle: 'italic', fontSize: 44, fontFamily: SANS, fill: '#1a1a1a', color: '#1a1a1a' },
                a: { fontSize: 44, fontFamily: '"DejaVu Sans", sans-serif', fontWeight: 'bold', fill: '#1a1a1a', color: '#1a1a1a' },
              },
            },
          });
          return { type: 'group', children };
        },
      },
    ],
    graphic: [...textGraphics, ...legendGraphics],
  };
}

export default function App() {
  const ref = useRef<HTMLDivElement>(null);
  useEffect(() => {
    document.body.style.margin = '0';
    const chart = echarts.init(ref.current as HTMLDivElement, null, { renderer: 'svg' });
    chart.setOption(buildOption() as any);
    return () => chart.dispose();
  }, []);
  return <div ref={ref} style={{ width: 3449, height: 2674, background: '#fff' }} />;
}
